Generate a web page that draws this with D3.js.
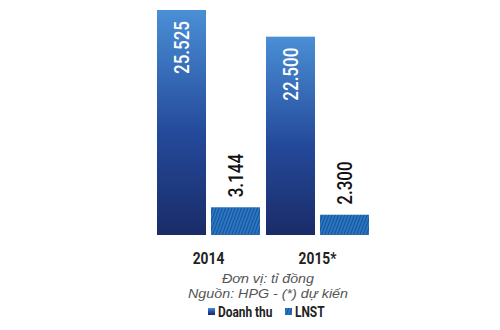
<!DOCTYPE html>
<html>
<head>
<meta charset="utf-8">
<script src="https://cdn.jsdelivr.net/npm/d3@7"></script>
<style>
  body { margin: 0; background: #fff; }
  svg { display: block; }
</style>
</head>
<body>
<svg id="chart"></svg>
<script>
// du lieu
var years = ["2014", "2015*"];
var series = ["Doanh thu", "LNST"];
var doanhThu = [25525, 22500];
var lnst = [3144, 2300];
var notes = ["Đơn vị: tỉ đồng", "Nguồn: HPG - (*) dự kiến"];

var svgWidth = 500, svgHeight = 330;
var svg = d3.select("#chart").attr("width", svgWidth).attr("height", svgHeight);

var fmt = d3.formatLocale({ decimal: ",", thousands: ".", grouping: [3], currency: ["", ""] }).format(",");

var defs = svg.append("defs");
var grad = defs.append("linearGradient").attr("id", "gradDT")
    .attr("x1", 0).attr("y1", 0).attr("x2", 0).attr("y2", 1);
grad.append("stop").attr("offset", "0%").attr("stop-color", "#4a8fd6");
grad.append("stop").attr("offset", "55%").attr("stop-color", "#24499a");
grad.append("stop").attr("offset", "100%").attr("stop-color", "#1a2c68");

var pat = defs.append("pattern").attr("id", "hatch")
    .attr("patternUnits", "userSpaceOnUse")
    .attr("width", 3).attr("height", 3)
    .attr("patternTransform", "rotate(20)");
pat.append("rect").attr("width", 3).attr("height", 3).attr("fill", "#2a7bc8");
pat.append("rect").attr("width", 1.2).attr("height", 3).attr("fill", "#1a5196");

var data = years.map(function (y, i) {
    return { year: y, values: [doanhThu[i], lnst[i]] };
});

//truc x
var x0 = d3.scaleBand().domain(years).range([157, 369]).paddingInner(6 / 109);
var x1 = d3.scaleBand().domain(series).range([0, x0.bandwidth()]).paddingInner(5 / 54);
var y = d3.scaleLinear().domain([0, d3.max(doanhThu)]).range([235, 10]);

var groups = svg.selectAll("g.grp").data(data).enter().append("g")
    .attr("class", "grp")
    .attr("transform", function (d) { return "translate(" + x0(d.year) + ",0)"; });

groups.selectAll("rect").data(function (d) {
    return d.values.map(function (v, j) { return { s: series[j], v: v }; });
}).enter().append("rect")
    .attr("x", function (d) { return x1(d.s); })
    .attr("y", function (d) { return y(d.v); })
    .attr("width", x1.bandwidth())
    .attr("height", function (d) { return y(0) - y(d.v); })
    .attr("fill", function (d) { return d.s === "Doanh thu" ? "url(#gradDT)" : "url(#hatch)"; });

//nhan gia tri (xoay doc)
groups.selectAll("text.val").data(function (d) {
    return d.values.map(function (v, j) { return { s: series[j], v: v }; });
}).enter().append("text")
    .attr("class", "val")
    .attr("transform", function (d) {
        var cx = x1(d.s) + x1.bandwidth() / 2 + 7;
        var ty = d.s === "Doanh thu" ? y(d.v) + 11 : y(d.v) - 10;
        return "translate(" + cx + "," + ty + ") rotate(-90) scale(0.85,1)";
    })
    .attr("text-anchor", function (d) { return d.s === "Doanh thu" ? "end" : "start"; })
    .attr("font-family", "Roboto")
    .attr("font-weight", 500)
    .attr("font-size", 20)
    .attr("fill", function (d) { return d.s === "Doanh thu" ? "#fff" : "#111"; })
    .text(function (d) { return fmt(d.v); });

//nhan nam
svg.selectAll("text.year").data(years).enter().append("text")
    .attr("class", "year")
    .attr("transform", function (d) { return "translate(" + (x0(d) + x0.bandwidth() / 2) + ",263.5) scale(0.86,1)"; })
    .attr("text-anchor", "middle")
    .attr("font-family", "Roboto")
    .attr("font-weight", 700)
    .attr("font-size", 16)
    .attr("fill", "#222")
    .text(function (d) { return d; });

//ghi chu
svg.selectAll("text.note").data(notes).enter().append("text")
    .attr("class", "note")
    .attr("transform", function (d, i) { return "translate(268," + (283 + i * 15) + ") scale(1.1,1)"; })
    .attr("text-anchor", "middle")
    .attr("font-family", "Liberation Sans")
    .attr("font-style", "italic")
    .attr("font-size", 13)
    .attr("fill", "#555")
    .text(function (d) { return d; });

//chu giai
var legX = [208, 285];
var leg = svg.selectAll("g.leg").data(series).enter().append("g")
    .attr("class", "leg")
    .attr("transform", function (d, i) { return "translate(" + legX[i] + ",308)"; });
leg.append("rect").attr("width", 7).attr("height", 7)
    .attr("fill", function (d, i) { return i === 0 ? "url(#gradDT)" : "url(#hatch)"; });
leg.append("text")
    .attr("transform", "translate(10,9) scale(0.85,1)")
    .attr("font-family", "Roboto")
    .attr("font-weight", 700)
    .attr("font-size", 14)
    .attr("fill", "#222")
    .text(function (d) { return d; });
</script>
</body>
</html>
